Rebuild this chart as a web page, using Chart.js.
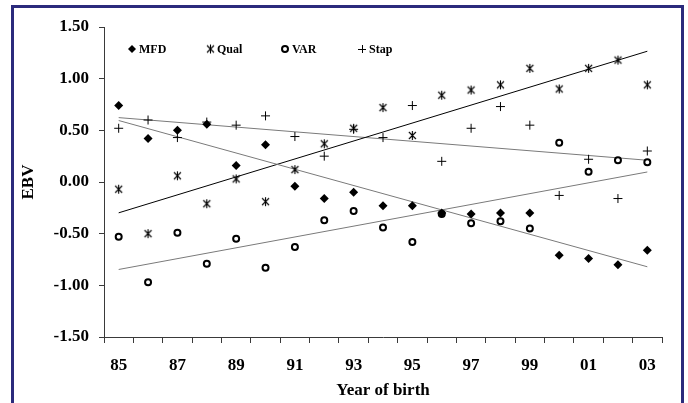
<!DOCTYPE html>
<html>
<head>
<meta charset="utf-8">
<title>EBV by year of birth</title>
<style>
  html, body { margin: 0; padding: 0; background: #ffffff; }
  #wrap { position: relative; width: 688px; height: 403px; overflow: hidden; }
  canvas { display: block; }
</style>
<script src="https://cdn.jsdelivr.net/npm/chart.js@4.4.1/dist/chart.umd.min.js"></script>
</head>
<body>
<div id="wrap"><canvas id="chart" width="688" height="403"></canvas></div>
<script>
// Year of birth (two-digit) and estimated breeding values per trait
const years = ['85','86','87','88','89','90','91','92','93','94','95','96','97','98','99','00','01','02','03'];
const mfd   = [0.74, 0.42, 0.50, 0.56, 0.16, 0.36, -0.04, -0.16, -0.10, -0.23, -0.23, -0.30, -0.31, -0.30, -0.30, -0.71, -0.74, -0.80, -0.66];
const qual  = [-0.07, -0.50, 0.06, -0.21, 0.03, -0.19, 0.12, 0.37, 0.52, 0.72, 0.45, 0.84, 0.89, 0.94, 1.10, 0.90, 1.10, 1.18, 0.94];
const varEbv = [-0.53, -0.97, -0.49, -0.79, -0.55, -0.83, -0.63, -0.37, -0.28, -0.44, -0.58, -0.31, -0.40, -0.38, -0.45, 0.38, 0.10, 0.21, 0.19];
const stap  = [0.52, 0.60, 0.43, 0.58, 0.55, 0.64, 0.44, 0.25, 0.51, 0.43, 0.74, 0.20, 0.52, 0.73, 0.55, -0.13, 0.22, -0.16, 0.30];
const yTickLabels = ['-1.50', '-1.00', '-0.50', '0.00', '0.50', '1.00', '1.50'];
const legendNames = ['MFD', 'Qual', 'VAR', 'Stap'];

const SERIF = '"Liberation Serif", "Times New Roman", serif';

// Least-squares linear trend; only the two end points are kept so the line spans the series
function trendEnds(vals) {
  const n = vals.length;
  let sx = 0, sy = 0, sxx = 0, sxy = 0;
  vals.forEach((v, i) => { sx += i; sy += v; sxx += i * i; sxy += i * v; });
  const b = (n * sxy - sx * sy) / (n * sxx - sx * sx);
  const a = (sy - b * sx) / n;
  return vals.map((v, i) => (i === 0 || i === n - 1) ? a + b * i : null);
}

// Six-armed asterisk marker (X with a vertical stroke)
function makeAsterisk() {
  const c = document.createElement('canvas');
  c.width = 11; c.height = 11;
  const g = c.getContext('2d');
  g.strokeStyle = '#000';
  g.lineWidth = 1.1;
  g.beginPath();
  g.moveTo(2, 2); g.lineTo(9, 9);
  g.moveTo(9, 2); g.lineTo(2, 9);
  g.moveTo(5.5, 1); g.lineTo(5.5, 10);
  g.stroke();
  return c;
}
const asterisk = makeAsterisk();

// Navy frame around the whole figure
const framePlugin = {
  id: 'frame',
  afterDraw(chart) {
    const ctx = chart.ctx;
    ctx.save();
    ctx.strokeStyle = '#2b2a7c';
    ctx.lineWidth = 3;
    ctx.strokeRect(12.5, 6.5, 670, 430);
    ctx.restore();
  }
};

// Single-row legend inside the plot area
const legendPlugin = {
  id: 'inlineLegend',
  afterDraw(chart) {
    const ctx = chart.ctx;
    const y = 49;
    const items = [
      { x: 132, draw: (cx) => { ctx.beginPath(); ctx.moveTo(cx, y - 4); ctx.lineTo(cx + 4, y); ctx.lineTo(cx, y + 4); ctx.lineTo(cx - 4, y); ctx.closePath(); ctx.fillStyle = '#000'; ctx.fill(); } },
      { x: 210, draw: (cx) => { ctx.drawImage(asterisk, Math.round(cx) - 5, y - 5.5); } },
      { x: 285, draw: (cx) => { ctx.beginPath(); ctx.arc(cx, y, 3, 0, Math.PI * 2); ctx.fillStyle = '#fff'; ctx.fill(); ctx.lineWidth = 2; ctx.strokeStyle = '#000'; ctx.stroke(); } },
      { x: 362, draw: (cx) => { ctx.beginPath(); ctx.moveTo(cx - 4, y + 0.5); ctx.lineTo(cx + 4, y + 0.5); ctx.moveTo(cx + 0.5, y - 4); ctx.lineTo(cx + 0.5, y + 4); ctx.lineWidth = 1; ctx.strokeStyle = '#000'; ctx.stroke(); } }
    ];
    ctx.save();
    ctx.font = 'bold 12px ' + SERIF;
    ctx.textBaseline = 'middle';
    ctx.textAlign = 'left';
    items.forEach((it, i) => {
      it.draw(it.x);
      ctx.fillStyle = '#000';
      ctx.fillText(legendNames[i], it.x + 7, y + 0.5);
    });
    ctx.restore();
  }
};

const axisColor = '#3a3a3a';
const tickFont = { family: SERIF, size: 17, weight: 'bold' };

new Chart(document.getElementById('chart'), {
  type: 'line',
  data: {
    labels: years,
    datasets: [
      { label: 'MFD', data: mfd, showLine: false, pointStyle: 'rectRot', pointRadius: 4.5, pointBackgroundColor: '#000', pointBorderColor: '#000', pointBorderWidth: 0, order: 1 },
      { label: 'Qual', data: qual, showLine: false, pointStyle: asterisk, pointRadius: 5, order: 1 },
      { label: 'VAR', data: varEbv, showLine: false, pointStyle: 'circle', pointRadius: 3, pointBackgroundColor: '#fff', pointBorderColor: '#000', pointBorderWidth: 2, order: 1 },
      { label: 'Stap', data: stap, showLine: false, pointStyle: 'cross', pointRadius: 4.5, pointBorderColor: '#000', pointBorderWidth: 1, order: 1 },
      { label: 'MFD trend', data: trendEnds(mfd), spanGaps: true, borderColor: '#7a7a7a', borderWidth: 1, pointRadius: 0, order: 2 },
      { label: 'Qual trend', data: trendEnds(qual), spanGaps: true, borderColor: '#000', borderWidth: 1, pointRadius: 0, order: 2 },
      { label: 'VAR trend', data: trendEnds(varEbv), spanGaps: true, borderColor: '#7a7a7a', borderWidth: 1, pointRadius: 0, order: 2 },
      { label: 'Stap trend', data: trendEnds(stap), spanGaps: true, borderColor: '#7a7a7a', borderWidth: 1, pointRadius: 0, order: 2 }
    ]
  },
  options: {
    responsive: false,
    animation: false,
    devicePixelRatio: 1,
    layout: { padding: { left: 14, right: 26, top: 27, bottom: 0 } },
    plugins: { legend: { display: false }, tooltip: { enabled: false } },
    elements: { line: { tension: 0 } },
    scales: {
      x: {
        type: 'category',
        offset: true,
        grid: { offset: true, drawOnChartArea: false, drawTicks: true, tickLength: 6, tickColor: axisColor, color: axisColor },
        border: { display: true, color: axisColor, width: 1 },
        ticks: {
          autoSkip: false, maxRotation: 0, minRotation: 0, padding: 12,
          color: '#000', font: tickFont,
          callback: (v, i) => (i % 2 === 0 ? years[i] : '')
        },
        title: { display: true, text: 'Year of birth', color: '#000', font: tickFont, padding: { top: 0, bottom: 2 } },
        afterFit: (s) => { s.height = 66; }
      },
      y: {
        min: -1.5, max: 1.5,
        grid: { drawOnChartArea: false, drawTicks: true, tickLength: 5, tickColor: axisColor, color: axisColor },
        border: { display: true, color: axisColor, width: 1 },
        ticks: {
          stepSize: 0.5, padding: 10, color: '#000', font: tickFont,
          callback: (v) => yTickLabels[Math.round((v + 1.5) / 0.5)]
        },
        title: { display: true, text: 'EBV', color: '#000', font: tickFont, padding: { top: 4, bottom: 0 } },
        afterFit: (s) => { s.width = 90; }
      }
    }
  },
  plugins: [framePlugin, legendPlugin]
});
</script>
</body>
</html>
